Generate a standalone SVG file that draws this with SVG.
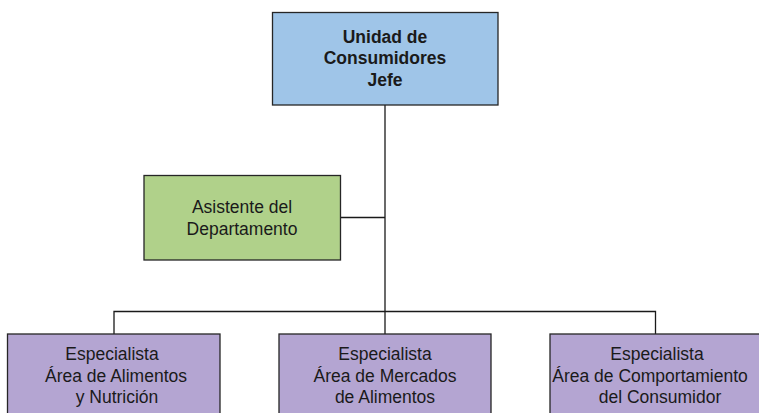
<svg xmlns="http://www.w3.org/2000/svg" width="759" height="413" viewBox="0 0 759 413">
<style>
.box{stroke:#262626;stroke-width:1.3}
.blue{fill:#9FC5E8}
.green{fill:#B0D18A}
.purple{fill:#B4A5D2}
text{font-family:"Liberation Sans",Arial,sans-serif;font-size:17.5px;fill:#1a1a1a;text-anchor:middle}
.b{font-weight:bold}
.conn{stroke:#1a1a1a;stroke-width:1.3;fill:none}
</style>
<rect width="759" height="413" fill="#fff"/>
<g id="connectors">
<path class="conn" d="M385,105 V334"/>
<path class="conn" d="M341,217.5 H385"/>
<path class="conn" d="M114,334 V311.5 H655.5 V334"/>
</g>
<g id="jefe">
<rect class="box blue" x="272.5" y="12.5" width="225.5" height="92.5"/>
<text class="b" x="385" y="42.5">Unidad de</text>
<text class="b" x="385" y="64">Consumidores</text>
<text class="b" x="385" y="85.5">Jefe</text>
</g>
<g id="asistente">
<rect class="box green" x="144" y="175.5" width="196.5" height="84.5"/>
<text x="242" y="212.5">Asistente del</text>
<text x="242" y="235">Departamento</text>
</g>
<g id="esp1">
<rect class="box purple" x="7.5" y="334" width="212.5" height="85"/>
<text x="112" y="360">Especialista</text>
<text x="116" y="381.5">Área de Alimentos</text>
<text x="117" y="403">y Nutrición</text>
</g>
<g id="esp2">
<rect class="box purple" x="279" y="334" width="212" height="85"/>
<text x="385" y="360">Especialista</text>
<text x="385" y="381.5">Área de Mercados</text>
<text x="385" y="403">de Alimentos</text>
</g>
<g id="esp3">
<rect class="box purple" x="550" y="334" width="212" height="85"/>
<text x="657" y="360">Especialista</text>
<text x="650" y="381.5">Área de Comportamiento</text>
<text x="660" y="403">del Consumidor</text>
</g>
</svg>
